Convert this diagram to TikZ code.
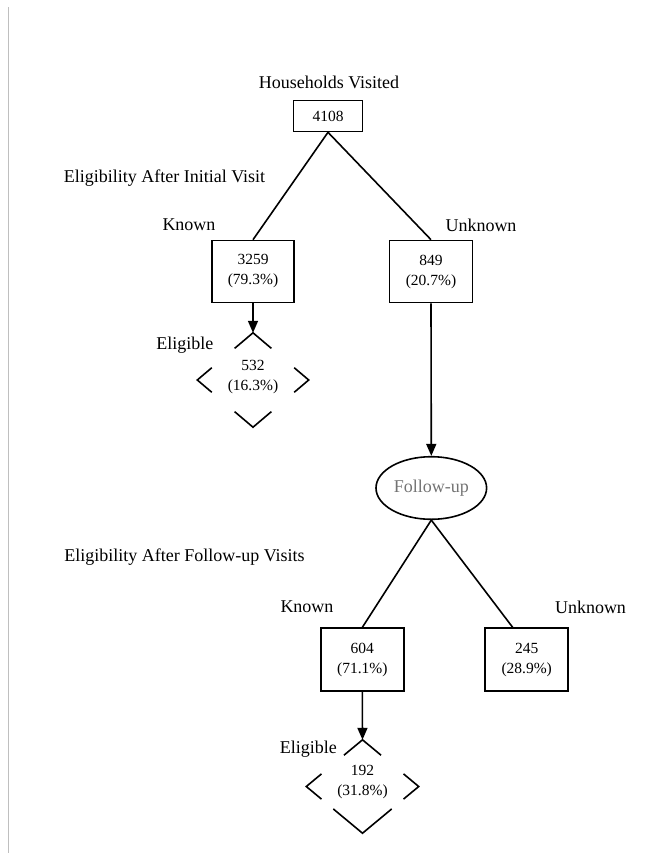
\documentclass[tikz,border=0pt]{standalone}
\usepackage{fontspec}
\setmainfont{Liberation Serif}
\usetikzlibrary{shapes.geometric,arrows.meta,calc}
\tikzset{
  lbl/.style={inner sep=0pt, font=\fontsize{18}{20}\selectfont},
  boxnode/.style={draw, line width=1.6pt, inner sep=0pt, align=center,
    font=\fontsize{15.5}{20}\selectfont},
  link/.style={line width=1.6pt},
  arr/.style={line width=1.6pt, -{Triangle[length=12pt,width=10pt]}},
  diam/.style={shape=diamond, draw=none, inner sep=0pt},
  dtext/.style={inner sep=0pt, align=center, font=\fontsize{15.5}{20}\selectfont},
}
\begin{document}
\begin{tikzpicture}[x=1pt,y=-1pt]
\useasboundingbox (0,0) rectangle (645,863);
\draw[black!25, line width=1pt] (8,7) -- (8,853);

% labels
\node[lbl] (hvl) at (329,82) {Households Visited};
\node[lbl] (eiv) at (164.5,178) {Eligibility After Initial Visit};
\node[lbl] (kn1) at (189,225) {Known};
\node[lbl] (un1) at (481,225) {Unknown};
\node[lbl] (el1) at (184.8,345) {Eligible};
\node[lbl] (efv) at (184.5,557) {Eligibility After Follow-up Visits};
\node[lbl] (kn2) at (307,607) {Known};
\node[lbl] (un2) at (590.5,607) {Unknown};
\node[lbl] (el2) at (308.3,749) {Eligible};

% boxes
\node[boxnode, minimum width=69pt, minimum height=31pt] (top) at (328,116) {4108};
\node[boxnode, minimum width=82pt, minimum height=62pt] (k1) at (253,271.5) {3259\\(79.3\%)};
\node[boxnode, minimum width=83pt, minimum height=62pt] (u1) at (431,271.5) {849\\(20.7\%)};
\node[draw, shape=ellipse, line width=1.6pt, inner sep=0pt, minimum width=110.6pt,
      minimum height=62.6pt, text=black!55, font=\fontsize{18}{20}\selectfont] (fu) at (431.3,488) {Follow-up};
\node[boxnode, minimum width=83pt, minimum height=63pt] (k2) at (362.3,659.7) {604\\(71.1\%)};
\node[boxnode, minimum width=83pt, minimum height=63pt] (u2) at (526.7,659.7) {245\\(28.9\%)};

% diamonds (corners only)
\node[diam, minimum width=111pt, minimum height=94pt] (e1) at (253,380) {};
\node[dtext] (e1t) at (253,377) {532\\(16.3\%)};
\node[diam, minimum width=112pt, minimum height=93pt] (e2) at (362.5,786.5) {};
\node[dtext] (e2t) at (362.5,782.5) {192\\(31.8\%)};

\foreach \d/\ft/\fs/\fb in {e1/0.33/0.26/0.33, e2/0.33/0.27/0.52} {
  \draw[link] ($(\d.north)!\ft!(\d.west)$) -- (\d.north) -- ($(\d.north)!\ft!(\d.east)$);
  \draw[link] ($(\d.west)!\fs!(\d.north)$) -- (\d.west) -- ($(\d.west)!\fs!(\d.south)$);
  \draw[link] ($(\d.east)!\fs!(\d.north)$) -- (\d.east) -- ($(\d.east)!\fs!(\d.south)$);
  \draw[link] ($(\d.south)!\fb!(\d.west)$) -- (\d.south) -- ($(\d.south)!\fb!(\d.east)$);
}

% connectors
\draw[link] (top.south) -- (k1.north);
\draw[link] (top.south) -- (u1.north);
\draw[arr] (k1.south) -- (e1.north);
\draw[arr] (u1.south) -- (fu.north);
\draw[link] (fu.south) -- (k2.north);
\coordinate (u2in) at ($(u2.north)+(-14,0)$);
\draw[link] (fu.south) -- (u2in);
\draw[arr] (k2.south) -- (e2.north);
\end{tikzpicture}
\end{document}
